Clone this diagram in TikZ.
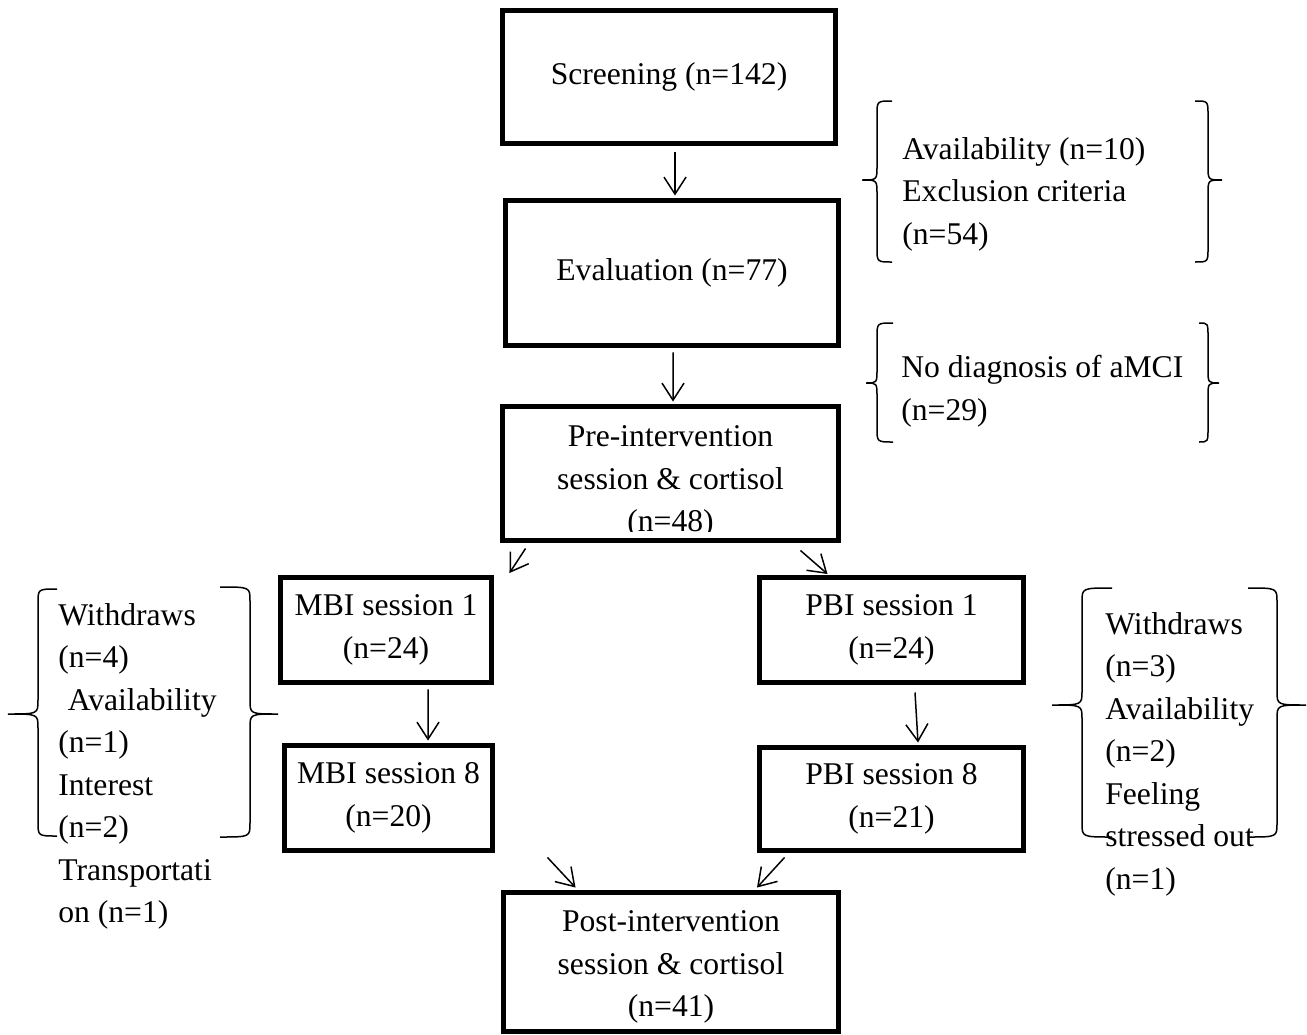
\documentclass[tikz,border=0pt]{standalone}
\usepackage{fontspec}
\setmainfont{Liberation Serif}
\usetikzlibrary{arrows.meta,calc}

% curly brace: x end, x line, x tip, y top, y middle, y bottom
\newcommand{\curlbrace}[6]{%
  \draw[brace] (#1,#4) .. controls (#2,#4) .. (#2,#4+14) -- (#2,#5-14)
    .. controls (#2,#5) .. (#3,#5) .. controls (#2,#5) .. (#2,#5+14)
    -- (#2,#6-14) .. controls (#2,#6) .. (#1,#6);}

\begin{document}
\begin{tikzpicture}[x=0.02cm, y=-0.02cm,
  box/.style={draw, line width=0.1cm, align=center, inner sep=0pt, font=\fontsize{18}{24.2}\selectfont},
  txt/.style={align=center, inner sep=0pt, font=\fontsize{18}{24.2}\selectfont},
  note/.style={align=left, inner sep=0pt, anchor=north west, font=\fontsize{18}{24.2}\selectfont},
  arr/.style={-{Straight Barb[length=0.34cm, width=0.44cm]}, line width=0.03cm},
  brace/.style={line width=0.03cm}
]
\useasboundingbox (0,0) rectangle (1307,1034);

% main column
\node[box, minimum width=6.66cm, minimum height=2.66cm] (scr) at (669,77) {Screening (n=142)};
\node[box, minimum width=6.66cm, minimum height=2.90cm] (eval) at (672,273) {Evaluation (n=77)};
\node[box, minimum width=6.72cm, minimum height=2.68cm] (pre) at (670.5,473.5) {};
\begin{scope}
  \clip (505,404) rectangle (836,531);
  \node[txt] (pretxt) at (670.5,482) {Pre-intervention\\session \& cortisol\\(n=48)};
\end{scope}

% two arms
\node[box, minimum width=4.22cm, minimum height=2.10cm] (mbi1) at (386,630) {MBI session 1\\(n=24)};
\node[box, minimum width=4.16cm, minimum height=2.10cm] (mbi8) at (388.5,798) {MBI session 8\\(n=20)};
\node[box, minimum width=5.28cm, minimum height=2.10cm] (pbi1) at (891.5,630) {PBI session 1\\(n=24)};
\node[box, minimum width=5.28cm, minimum height=2.06cm] (pbi8) at (891.5,799) {PBI session 8\\(n=21)};

\node[box, minimum width=6.70cm, minimum height=2.78cm] (post) at (671,962) {};
\node[txt] (posttxt) at (671,967) {Post-intervention\\session \& cortisol\\(n=41)};

% arrows
\draw[arr] ($(scr.south)+(6,6.5)$) -- ($(eval.north)+(3,-2.5)$);
\draw[arr] ($(eval.south)+(1,4.5)$) -- ($(pre.north)+(2.5,-2.5)$);
\draw[arr] ($(pre.south west)+(25.5,5.5)$) -- ($(mbi1.north east)+(15.5,-2)$);
\draw[arr] ($(pre.south east)+(-40.5,7.5)$) -- ($(pbi1.north west)+(70.5,-1)$);
\draw[arr] ($(mbi1.south)+(42,4.5)$) -- ($(mbi8.north)+(39.5,-2.5)$);
\draw[arr] ($(pbi1.south)+(23.5,7.5)$) -- ($(pbi8.north)+(26.5,-2.5)$);
\draw[arr] ($(mbi8.south east)+(52.5,4.5)$) -- ($(post.north west)+(74.5,-2.5)$);
\draw[arr] ($(pbi8.south west)+(27.5,4.5)$) -- ($(post.north)+(86,-2.5)$);

% exclusions
\node[note] (excl1) at (902,137) {Availability (n=10)\\Exclusion criteria\\(n=54)};
\curlbrace{892}{877}{862}{101}{180}{262}
\curlbrace{1195}{1208}{1222}{101}{180}{262}

\node[note] (excl2) at (901,355) {No diagnosis of aMCI\\(n=29)};
\curlbrace{893}{877}{866}{323}{383}{442}
\curlbrace{1199}{1208}{1219}{323}{383}{442}

\node[note] (dropm) at (58,603) {Withdraws\\(n=4)\\\hspace*{0.3em}Availability\\(n=1)\\Interest\\(n=2)\\Transportati\\on (n=1)};
\curlbrace{57}{38}{8}{589}{714}{836}
\curlbrace{220}{250}{278}{587}{714}{837}

\node[note] (dropp) at (1105,612) {Withdraws\\(n=3)\\Availability\\(n=2)\\Feeling\\stressed out\\(n=1)};
\curlbrace{1112}{1082}{1052}{588}{705}{837}
\curlbrace{1248}{1277}{1306}{588}{705}{837}

\end{tikzpicture}
\end{document}
